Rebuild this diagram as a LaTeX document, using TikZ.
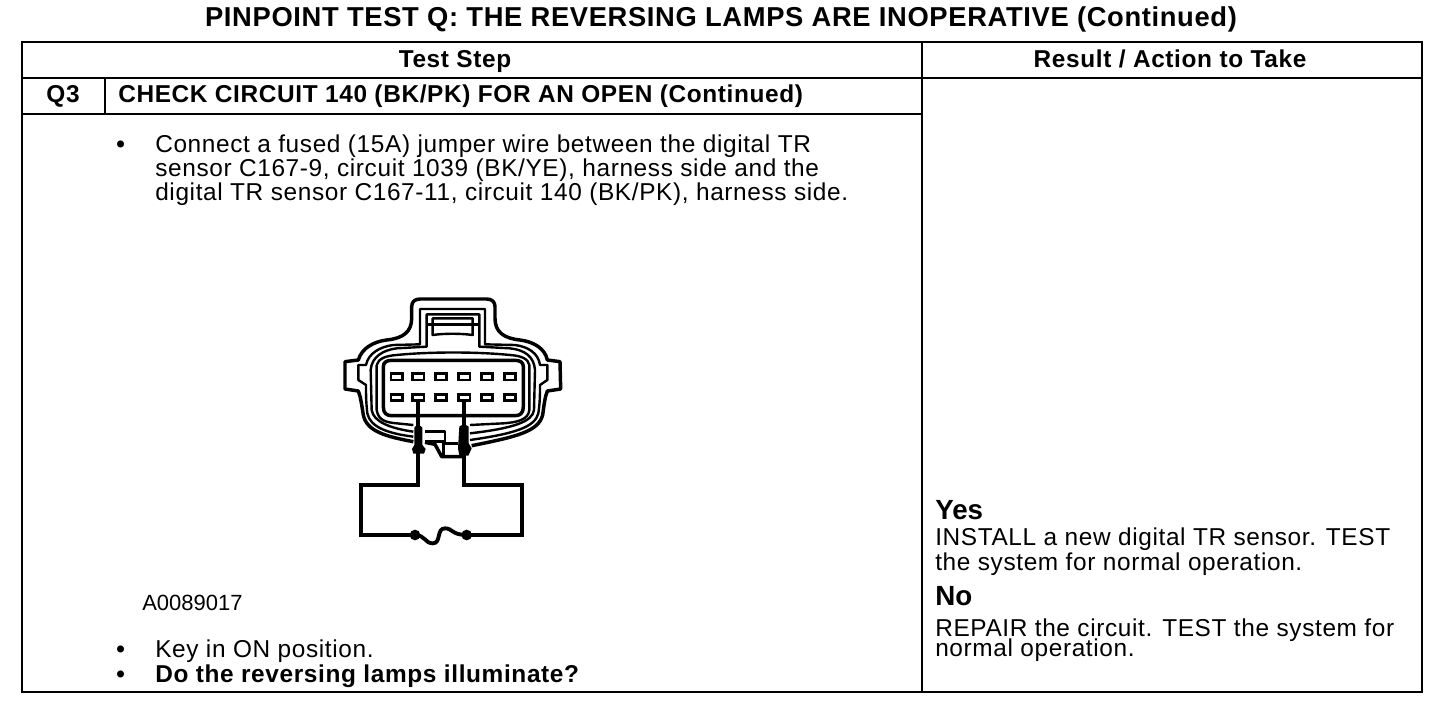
\documentclass[tikz,border=0pt]{standalone}
\usepackage{fontspec}
\setmainfont{Liberation Sans}
\newfontfamily\spaced[LetterSpace=2.6]{Liberation Sans}
\newfontfamily\titlefont[LetterSpace=2.4]{Liberation Sans}
\begin{document}
\begin{tikzpicture}[x=0.75pt,y=-0.75pt,
  tx/.style={anchor=base west,inner sep=0pt,font=\spaced\fontsize{18.3}{20}\selectfont},
  bd/.style={anchor=base west,inner sep=0pt,font=\spaced\fontsize{18.3}{20}\selectfont\bfseries},
  hd/.style={anchor=base,inner sep=0pt,font=\spaced\fontsize{18.3}{20}\selectfont\bfseries},
  big/.style={anchor=base west,inner sep=0pt,font=\fontsize{20.8}{22}\selectfont\bfseries},
  rule/.style={line width=1.5pt,line cap=rect},
  body/.style={line width=2.6pt,line join=round},
  fine/.style={line width=1.8pt,line join=round},
  wire/.style={line width=2.9pt,line join=miter},
  zoomed/.style={shift={(330,285)},x=0.25pt,y=-0.25pt}]
\useasboundingbox (0,0) rectangle (1456,710);
\fill[white] (0,0) rectangle (1456,710);
% table
\draw[rule] (22,42) rectangle (1422,692);
\draw[rule] (22,78) -- (1422,78);
\draw[rule] (22,114) -- (922,114);
\draw[rule] (922,42) -- (922,692);
\draw[rule] (105,78) -- (105,114);
% text
\node[hd,font=\titlefont\fontsize{20.5}{22}\selectfont\bfseries] (title) at (721,27) {PINPOINT TEST Q: THE REVERSING LAMPS ARE INOPERATIVE (Continued)};
\node[hd] (ts) at (455,68) {Test Step};
\node[hd] (ra) at (1170,68) {Result / Action to Take};
\node[hd] (q3) at (63,103) {Q3};
\node[bd] (chk) at (118,103) {CHECK CIRCUIT 140 (BK/PK) FOR AN OPEN (Continued)};
\node[bd] (b1) at (116,152) {•};
\node[tx] (l1) at (155,152) {Connect a fused (15A) jumper wire between the digital TR};
\node[tx] (l2) at (155,176) {sensor C167-9, circuit 1039 (BK/YE), harness side and the};
\node[tx] (l3) at (155,200) {digital TR sensor C167-11, circuit 140 (BK/PK), harness side.};
\node[tx,font=\fontsize{16.5}{18}\selectfont] (fig) at (142,610) {A0089017};
\node[bd] (b2) at (116,657) {•};
\node[tx] (l4) at (155,657) {Key in ON position.};
\node[bd] (b3) at (116,682) {•};
\node[bd] (l5) at (155,682) {Do the reversing lamps illuminate?};
\node[big] (yes) at (935,519) {Yes};
\node[tx] (y1) at (935,545) {INSTALL a new digital TR sensor. TEST};
\node[tx] (y2) at (935,570) {the system for normal operation.};
\node[big] (no) at (935,605) {No};
\node[tx] (n1) at (935,636) {REPAIR the circuit. TEST the system for};
\node[tx] (n2) at (935,656.5) {normal operation.};
% connector
\begin{scope}[zoomed]
% outer shell
\draw[body] (250,470) .. controls (170,455) and (110,440) .. (100,390) .. controls (95,360) and (92,335) .. (85,318)
 -- (45,312) -- (45,230) -- (85,225)
 .. controls (95,190) and (130,170) .. (170,165) .. controls (220,160) and (245,140) .. (245,100)
 -- (245,65) .. controls (245,50) and (255,42) .. (270,42) -- (470,42) .. controls (485,42) and (495,50) .. (495,65)
 -- (495,100) .. controls (495,140) and (520,160) .. (570,165) .. controls (610,170) and (645,190) .. (652,225)
 -- (690,230) -- (692,312) -- (652,318)
 .. controls (645,335) and (642,360) .. (638,390) .. controls (625,440) and (560,455) .. (425,482);
% second contour
\draw[fine] (250,455) .. controls (170,445) and (120,425) .. (112,385) .. controls (108,350) and (108,330) .. (108,300)
 -- (85,285) -- (85,240) -- (108,240)
 .. controls (115,205) and (150,185) .. (190,180) -- (270,178) -- (270,72) -- (465,72) -- (465,178) -- (555,180)
 .. controls (595,185) and (625,205) .. (630,240) -- (652,240) -- (652,285) -- (630,300)
 .. controls (630,330) and (630,350) .. (625,385) .. controls (615,425) and (560,445) .. (420,465);
% third contour
\draw[fine] (250,440) .. controls (180,430) and (130,410) .. (125,375) -- (122,255)
 .. controls (125,215) and (160,195) .. (200,190) -- (290,185) -- (290,88) -- (448,88) -- (448,185) -- (540,190)
 .. controls (585,195) and (612,215) .. (615,255) -- (612,375) .. controls (608,410) and (550,430) .. (420,445);
% fourth contour
\draw[fine] (140,240) .. controls (145,220) and (170,212) .. (200,210) .. controls (300,200) and (440,200) .. (540,210)
 .. controls (570,212) and (595,220) .. (598,240) -- (598,375) .. controls (595,405) and (560,412) .. (520,415) -- (420,420)
 (250,420) -- (200,415) .. controls (165,412) and (145,405) .. (140,375) -- (140,240);
% inner cavity wall
\draw[body] (160,245) .. controls (160,232) and (170,226) .. (185,226) -- (555,226) .. controls (570,226) and (580,232) .. (580,245)
 -- (580,365) .. controls (580,385) and (570,392) .. (555,392) -- (185,392) .. controls (170,392) and (160,385) .. (160,365) -- cycle;
% latch
\draw[fine] (308,100) -- (428,100) -- (428,150) .. controls (390,145) and (345,145) .. (308,150) -- cycle;
\draw[fine] (290,118) -- (448,118);
% cavities
\foreach \cx in {200,265,333,403,471,540}{
  \foreach \cy in {275,337}{
    \draw[line width=1.9pt,fill=white] (\cx-17,\cy-10) rectangle (\cx+17,\cy+10);
    \fill (\cx-19,\cy-13) rectangle (\cx+19,\cy-5);
  }
}
% keyway
\draw[fine] (285,440) -- (345,440) -- (345,470) -- (285,470);
\draw[body] (285,472) -- (315,478) -- (335,515) -- (403,515);
\draw[fine] (340,475) -- (385,475) (340,475) -- (340,512);
% probes
\coordinate (pa) at (265,350);
\coordinate (pb) at (403,350);
\coordinate (ja) at (265,600);
\coordinate (jb) at (403,600);
\coordinate (la) at (92,600);
\coordinate (lb) at (92,750);
\coordinate (ra2) at (575,600);
\coordinate (rb) at (575,750);
\coordinate (fa) at (255,750);
\coordinate (fb) at (410,750);
\draw[wire] (pa) -- (ja) -- (la) -- (lb) -- (fa);
\draw[wire] (pb) -- (jb) -- (ra2) -- (rb) -- (fb);
\draw[wire] (fa) .. controls (285,750) and (285,775) .. (308,775) .. controls (335,775) and (318,730) .. (345,730) .. controls (368,730) and (365,750) .. (410,750);
\fill (fa) circle (16);
\fill (fb) circle (16);
\fill (253,428) .. controls (255,420) and (275,420) .. (277,428) -- (277,480) -- (287,492) -- (282,506) -- (250,506) -- (246,492) -- (253,480) -- cycle;
\fill (388,425) .. controls (392,418) and (412,418) .. (416,425) -- (416,475) -- (425,490) -- (415,512) -- (388,512) -- (384,490) -- cycle;
\end{scope}
\end{tikzpicture}
\end{document}
